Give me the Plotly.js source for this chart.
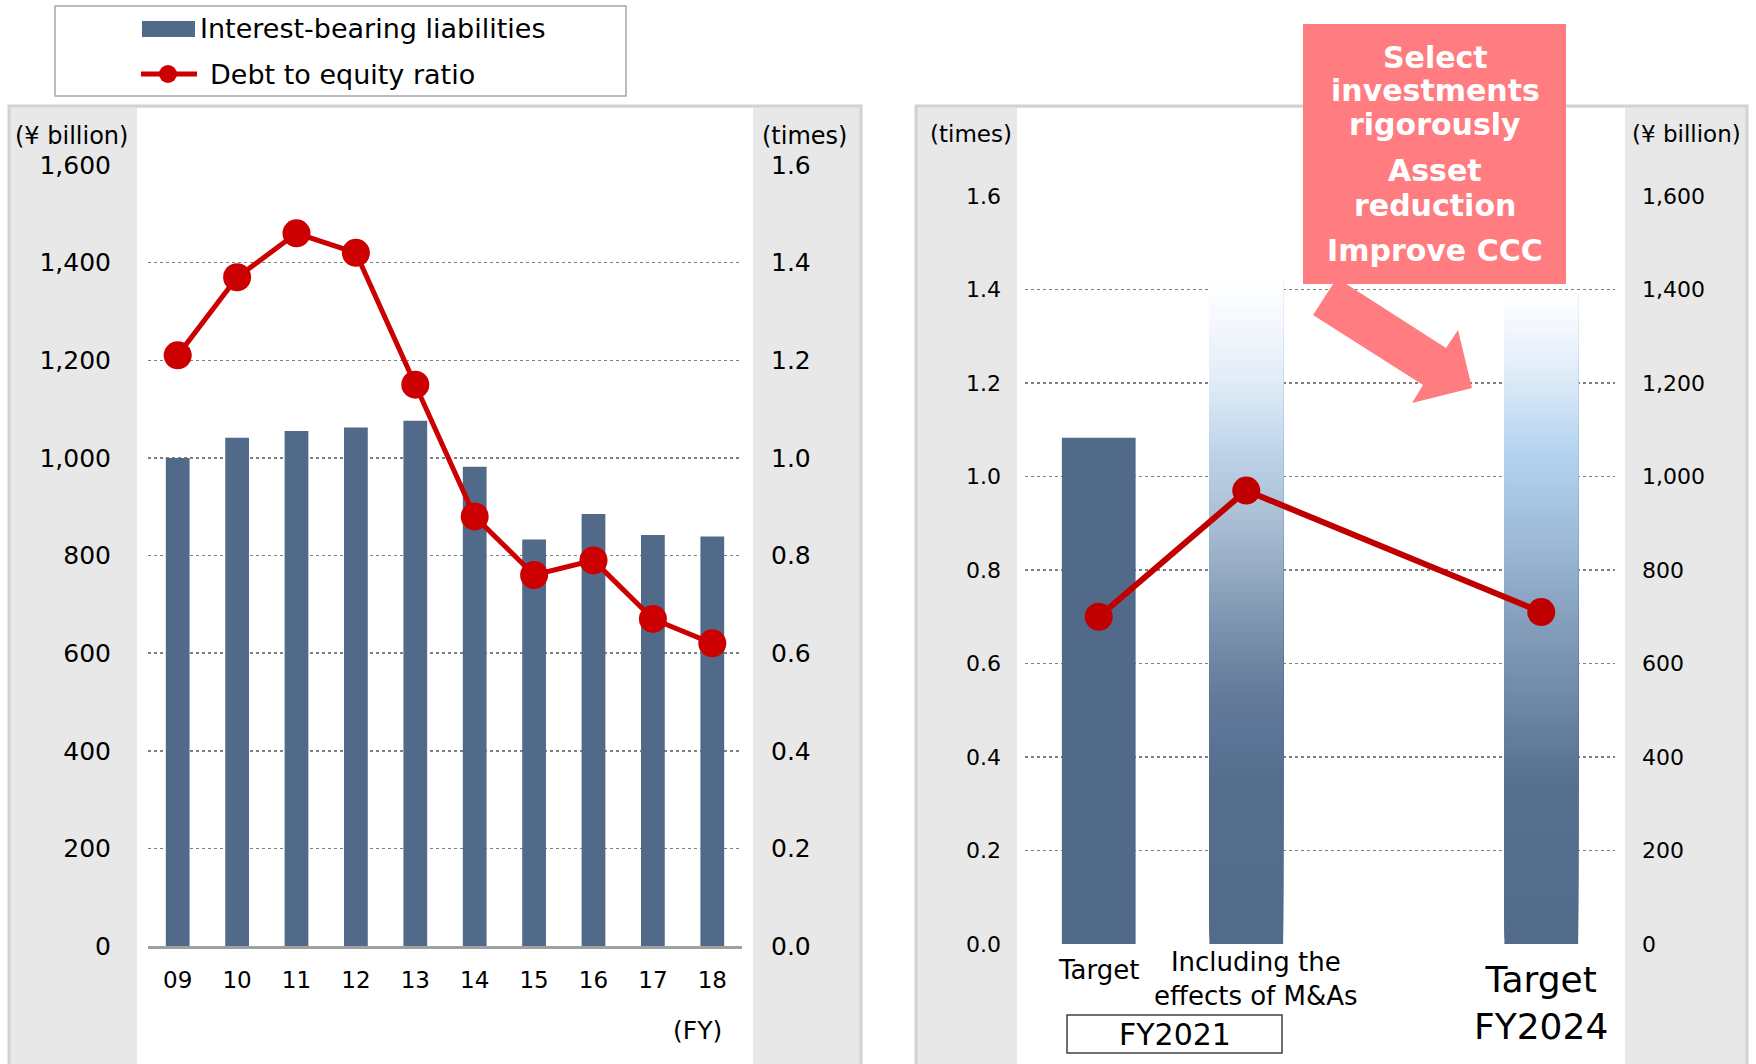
<!DOCTYPE html>
<html>
<head>
<meta charset="utf-8">
<script src="https://cdn.plot.ly/plotly-3.0.1.min.js"></script>
<style>html,body{margin:0;padding:0;background:#fff;}#chart{width:1756px;height:1064px;}</style>
</head>
<body>
<div id="chart"></div>
<script>
// ---------- data ----------
const years = ["09", "10", "11", "12", "13", "14", "15", "16", "17", "18"];
const interestBearingLiabilities = [1000, 1041, 1055, 1062, 1076, 982, 833, 885, 842, 839];
const debtToEquity = [1.21, 1.37, 1.46, 1.42, 1.15, 0.88, 0.76, 0.79, 0.67, 0.62];

const planCategories = ["Target", "Including the effects of M&As", "Target FY2024"];
const planLabels = ["Target", "Including the<br>effects of M&As", "Target<br>FY2024"];
const planLiabilities = [1083, 1420, 1390];
const planDebtToEquity = [0.70, 0.97, 0.71];
const planIsProjection = [false, true, true];

const leftTicksBn = [0, 200, 400, 600, 800, 1000, 1200, 1400, 1600];
const ticksTimes = [0, 0.2, 0.4, 0.6, 0.8, 1.0, 1.2, 1.4, 1.6];

const legendNames = ["Interest-bearing liabilities", "Debt to equity ratio"];
const calloutLines = ["Select", "investments", "rigorously", "Asset", "reduction", "Improve CCC"];

// ---------- helpers ----------
const W = 1756, H = 1064;
const px = x => x / W;
const py = y => 1 - y / H;
const FONT = "DejaVu Sans";
const BAR = "#516A8A";

// gradient styles (fraction of bar height -> colour)
const gradients = [
  null,
  [[0, "#526B8A"], [0.25, "#556E8E"], [0.367, "#62799A"], [0.428, "#6F87A3"], [0.488, "#7F96B1"],
   [0.548, "#91A7C0"], [0.608, "#A2B6CE"], [0.669, "#B0C4DA"], [0.729, "#BCD0E6"], [0.789, "#CCDFF1"],
   [0.849, "#E2ECF7"], [0.93, "#F3F7FC"], [1, "#FFFFFF"]],
  [[0, "#526B8A"], [0.25, "#57708F"], [0.375, "#6F88A6"], [0.437, "#7A93B0"], [0.498, "#859FBD"],
   [0.56, "#91ACCA"], [0.622, "#9DBAD8"], [0.683, "#A7C6E4"], [0.745, "#B2D1EE"], [0.806, "#C5DDF3"],
   [0.868, "#DCEAF7"], [0.94, "#F0F6FC"], [1, "#FFFFFF"]]
];
const hex = h => [1, 3, 5].map(i => parseInt(h.substr(i, 2), 16));
function gradColor(stops, t) {
  for (let i = 1; i < stops.length; i++) {
    if (t <= stops[i][0]) {
      const a = stops[i - 1], b = stops[i];
      const f = (t - a[0]) / (b[0] - a[0]);
      const ca = hex(a[1]), cb = hex(b[1]);
      const c = ca.map((v, k) => Math.round(v + (cb[k] - v) * f));
      return `rgb(${c[0]},${c[1]},${c[2]})`;
    }
  }
  return "rgb(255,255,255)";
}

// right-panel bars: projection bars drawn as stacked overlapping slices for a vertical gradient
const segX = [], segBase = [], segY = [], segCol = [];
const NSEG = 100;
planCategories.forEach((c, i) => {
  const v = planLiabilities[i];
  if (!planIsProjection[i]) {
    segX.push(c); segBase.push(0); segY.push(v); segCol.push(BAR);
  } else {
    for (let k = 0; k < NSEG; k++) {
      const b = v * k / NSEG;
      segX.push(c); segBase.push(b); segY.push(v - b); segCol.push(gradColor(gradients[i], (k + 0.5) / NSEG));
    }
  }
});

const traces = [
  {
    type: "bar", x: years, y: interestBearingLiabilities, xaxis: "x", yaxis: "y",
    name: legendNames[0], width: 0.4, marker: { color: BAR, line: { width: 0 } }, showlegend: false
  },
  {
    type: "scatter", mode: "lines+markers", x: years, y: debtToEquity, xaxis: "x", yaxis: "y2",
    name: legendNames[1], line: { color: "#CC0000", width: 5 }, marker: { color: "#CC0000", size: 28 }, showlegend: false
  },
  {
    type: "bar", x: segX, y: segY, base: segBase, xaxis: "x2", yaxis: "y3",
    name: legendNames[0], width: 0.5, marker: { color: segCol, line: { width: 0 } }, showlegend: false
  },
  {
    type: "scatter", mode: "lines+markers", x: planCategories, y: planDebtToEquity, xaxis: "x2", yaxis: "y4",
    name: legendNames[1], line: { color: "#C00000", width: 6 }, marker: { color: "#C00000", size: 28 }, showlegend: false
  }
];

const gridStyle = { showgrid: true, gridcolor: "#7F7F7F", griddash: "dot", gridwidth: 1.5 };

const shapes = [
  // left panel
  { type: "rect", xref: "paper", yref: "paper", layer: "below", x0: px(9), x1: px(861), y0: py(106), y1: py(1085),
    fillcolor: "#E8E8E8", line: { color: "#D2D2D2", width: 3 } },
  { type: "rect", xref: "paper", yref: "paper", layer: "below", x0: px(137), x1: px(753), y0: py(108), y1: py(1085),
    fillcolor: "#FFFFFF", line: { width: 0 } },
  // right panel
  { type: "rect", xref: "paper", yref: "paper", layer: "below", x0: px(916), x1: px(1747), y0: py(106), y1: py(1085),
    fillcolor: "#E8E8E8", line: { color: "#D2D2D2", width: 3 } },
  { type: "rect", xref: "paper", yref: "paper", layer: "below", x0: px(1017), x1: px(1625), y0: py(108), y1: py(1085),
    fillcolor: "#FFFFFF", line: { width: 0 } },
  // legend box
  { type: "rect", xref: "paper", yref: "paper", layer: "above", x0: px(55), x1: px(626), y0: py(6), y1: py(96),
    fillcolor: "rgba(0,0,0,0)", line: { color: "#A6A6A6", width: 1.5 } },
  { type: "rect", xref: "paper", yref: "paper", layer: "above", x0: px(142), x1: px(195), y0: py(21), y1: py(37),
    fillcolor: BAR, line: { width: 0 } },
  { type: "line", xref: "paper", yref: "paper", layer: "above", x0: px(141), x1: px(197), y0: py(74), y1: py(74),
    line: { color: "#CC0000", width: 5 } },
  { type: "circle", xref: "paper", yref: "paper", layer: "above", x0: px(159), x1: px(177), y0: py(65), y1: py(83),
    fillcolor: "#CC0000", line: { width: 0 } },
  // FY2021 box
  { type: "rect", xref: "paper", yref: "paper", layer: "above", x0: px(1067), x1: px(1282), y0: py(1015), y1: py(1053),
    fillcolor: "rgba(0,0,0,0)", line: { color: "#404040", width: 1.5 } },
  // arrow
  { type: "path", xref: "paper", yref: "paper", layer: "above",
    path: "M " + [[1313,315],[1423,385],[1412,403],[1472,388],[1458,330],[1446,348],[1337,278]]
      .map(p => px(p[0]) + "," + py(p[1])).join(" L ") + " Z",
    fillcolor: "#FF7C80", line: { width: 0 } },
  // callout box
  { type: "rect", xref: "paper", yref: "paper", layer: "above", x0: px(1303), x1: px(1566), y0: py(24), y1: py(284),
    fillcolor: "#FF7C80", line: { width: 0 } }
];

function ann(text, x, y, size, opts) {
  return Object.assign({ text: text, xref: "paper", yref: "paper", x: px(x), y: py(y), showarrow: false,
    xanchor: "center", yanchor: "middle", font: { family: FONT, size: size, color: "#000" } }, opts || {});
}

const annotations = [
  ann("(¥ billion)", 71, 136, 24),
  ann("(times)", 804, 136, 24),
  ann("(times)", 971, 134, 23),
  ann("(¥ billion)", 1686, 134, 23),
  ann("(FY)", 697, 1030, 25),
  ann("FY2021", 1175, 1034, 30),
  ann(legendNames[0], 198, 29, 27, { xanchor: "left" }),
  ann(legendNames[1], 208, 75, 27, { xanchor: "left" })
];
// category labels of the right panel, placed on the category axis
const labelSizes = [26, 26, 36];
const labelY = [970, 979, 1003];
const labelShift = [0, 10, 0];
planCategories.forEach((c, i) => {
  annotations.push({ text: planLabels[i], xref: "x2", yref: "paper", x: c, y: py(labelY[i]), xshift: labelShift[i],
    showarrow: false, xanchor: "center", yanchor: "middle", font: { family: FONT, size: labelSizes[i], color: "#000" } });
});
// callout text, one annotation per line
const calloutY = [57, 91, 125, 171, 205, 250];
calloutLines.forEach((line, i) => {
  annotations.push(ann(line, 1435, calloutY[i], 30,
    { font: { family: FONT, size: 30, color: "#FFFFFF", weight: "bold" } }));
});

const layout = {
  width: W, height: H,
  margin: { l: 0, r: 0, t: 0, b: 0 },
  paper_bgcolor: "#FFFFFF", plot_bgcolor: "rgba(0,0,0,0)",
  barmode: "overlay", showlegend: false,
  font: { family: FONT, color: "#000" },
  xaxis: { domain: [px(148), px(742)], anchor: "y", type: "category", range: [-0.5, 9.5],
    showline: true, linecolor: "#A0A0A0", linewidth: 3, ticks: "", ticklabelstandoff: 11,
    tickfont: { family: FONT, size: 23, color: "#000" }, showgrid: false, zeroline: false, fixedrange: true },
  yaxis: Object.assign({ domain: [py(946), py(165)], anchor: "x", range: [0, 1600], tickvals: leftTicksBn,
    tickformat: ",", ticks: "", ticklabelstandoff: 36, zeroline: false,
    tickfont: { family: FONT, size: 25, color: "#000" } }, gridStyle),
  yaxis2: { overlaying: "y", side: "right", anchor: "x", range: [0, 1.6], tickvals: ticksTimes, tickformat: ".1f",
    ticks: "", ticklabelstandoff: 28, showgrid: false, zeroline: false,
    tickfont: { family: FONT, size: 25, color: "#000" } },
  xaxis2: { domain: [px(1025), px(1615)], anchor: "y3", type: "category", categoryorder: "array",
    categoryarray: [planCategories[0], planCategories[1], " ", planCategories[2]], range: [-0.5, 3.5],
    showticklabels: false, ticks: "", showgrid: false, zeroline: false, showline: false },
  yaxis3: Object.assign({ domain: [py(944), py(196)], anchor: "x2", side: "right", range: [0, 1600],
    tickvals: leftTicksBn, tickformat: ",", ticks: "", ticklabelstandoff: 26, zeroline: false,
    tickfont: { family: FONT, size: 22, color: "#000" } }, gridStyle),
  yaxis4: { overlaying: "y3", side: "left", anchor: "x2", range: [0, 1.6], tickvals: ticksTimes, tickformat: ".1f",
    ticks: "", ticklabelstandoff: 23, showgrid: false, zeroline: false,
    tickfont: { family: FONT, size: 22, color: "#000" } },
  shapes: shapes,
  annotations: annotations
};

Plotly.newPlot("chart", traces, layout, { staticPlot: true, displayModeBar: false });
</script>
</body>
</html>
